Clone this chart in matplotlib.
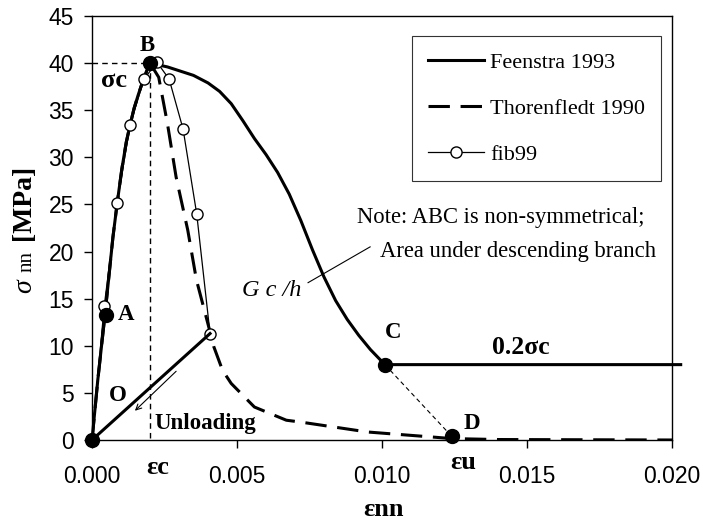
import matplotlib.pyplot as plt
from matplotlib.ticker import FormatStrFormatter

# strain / stress readings (strain in -, stress in MPa)
feen_eps = [0.0, 0.0002, 0.00045, 0.00072, 0.00087, 0.00103, 0.00118, 0.00131, 0.00145,
            0.00159, 0.00172, 0.00183, 0.0019, 0.0020, 0.0023, 0.0026, 0.0030, 0.0035,
            0.0040, 0.0044, 0.0048, 0.0052, 0.0056, 0.0060, 0.0064, 0.0068, 0.0072,
            0.0076, 0.0080, 0.0084, 0.0088, 0.0092, 0.0096, 0.0101, 0.0203]
feen_sig = [0.0, 6.4, 13.4, 21.5, 25.2, 28.8, 31.6, 33.4, 35.2,
            36.6, 37.8, 38.7, 39.3, 40.0, 39.8, 39.6, 39.2, 38.7,
            37.9, 37.0, 35.7, 33.9, 32.0, 30.3, 28.4, 26.1, 23.3,
            20.2, 17.3, 14.8, 12.8, 11.1, 9.6, 8.0, 8.0]

thor_eps = [0.0, 0.0002, 0.00045, 0.00072, 0.00087, 0.00103, 0.00118, 0.00131, 0.00145,
            0.00159, 0.00172, 0.00183, 0.0019, 0.0020, 0.0023, 0.0026, 0.0029, 0.0033,
            0.0036, 0.0040, 0.0042, 0.0045, 0.0048, 0.0056, 0.0067, 0.0072, 0.0095,
            0.0118, 0.0124, 0.0140, 0.0200]
thor_sig = [0.0, 6.4, 13.4, 21.5, 25.2, 28.8, 31.6, 33.4, 35.2,
            36.6, 37.8, 38.7, 39.3, 40.0, 38.5, 33.6, 27.9, 22.3,
            17.0, 12.3, 9.9, 7.4, 6.0, 3.5, 2.1, 1.9, 0.85,
            0.3, 0.15, 0.05, 0.0]

fib_eps = [0.0, 0.00042, 0.00087, 0.00131, 0.00179, 0.00224, 0.00266, 0.00314, 0.00361, 0.00407]
fib_sig = [0.0, 14.2, 25.2, 33.4, 38.3, 40.1, 38.3, 33.0, 24.0, 11.3]

# unloading path back to the origin
unload_eps = [0.00407, 0.0]
unload_sig = [11.3, 0.0]

# key points O, A, B, C, D
pt_names = ['O', 'A', 'B', 'C', 'D']
pt_eps = [0.0, 0.00048, 0.0020, 0.0101, 0.0124]
pt_sig = [0.0, 13.3, 40.0, 8.0, 0.4]

eps_c = 0.0020
sig_c = 40.0

serif = 'Liberation Serif'
plt.rcParams['font.family'] = 'Liberation Sans'

fig = plt.figure(figsize=(7.03, 5.26), dpi=100)
ax = fig.add_axes([0.1309, 0.1635, 0.825, 0.806])

ax.plot([0, eps_c], [sig_c, sig_c], color='black', lw=1, ls=(0, (4, 3)))
ax.plot([eps_c, eps_c], [sig_c, 0], color='black', lw=1, ls=(0, (4, 3)))
ax.plot([pt_eps[3], pt_eps[4]], [pt_sig[3], pt_sig[4]], color='black', lw=0.8, ls=(0, (4, 3)))

ax.plot(feen_eps, feen_sig, color='black', lw=2.2, label='Feenstra 1993', clip_on=False)
ax.plot(thor_eps, thor_sig, color='black', lw=2.2, dashes=(7, 3.5), label='Thorenfledt 1990')
ax.plot(fib_eps, fib_sig, color='black', lw=0.9, marker='o', markersize=8,
        markerfacecolor='white', markeredgecolor='black', markeredgewidth=1, label='fib99')
ax.plot(unload_eps, unload_sig, color='black', lw=2.2)
ax.plot(pt_eps, pt_sig, 'o', color='black', markersize=10, ls='none', clip_on=False, zorder=5)

# point labels
bold = dict(family=serif, fontweight='bold', ha='center', va='center')
ax.text(0.0019, 41.9, 'B', fontsize=16.5, **bold)
ax.text(0.00117, 13.3, 'A', fontsize=16.5, **bold)
ax.text(0.0009, 4.7, 'O', fontsize=16.5, **bold)
ax.text(0.01038, 11.4, 'C', fontsize=16.5, **bold)
ax.text(0.0131, 1.7, 'D', fontsize=16.5, **bold)
ax.text(0.00076, 38.2, 'σc', fontsize=19, **bold)
ax.text(0.01479, 9.8, '0.2σc', fontsize=18.5, **bold)
ax.text(0.0039, 1.7, 'Unloading', fontsize=16.5, **bold)
ax.text(0.00228, -2.9, 'εc', fontsize=19, clip_on=False, **bold)
ax.text(0.0128, -2.4, 'εu', fontsize=19, clip_on=False, **bold)

ax.annotate('', xy=(0.00141, 2.9), xytext=(0.00297, 7.5),
            arrowprops=dict(arrowstyle='->', color='black', lw=0.8))

ax.text(0.0062, 15.9, 'G c /h', fontsize=17.5, family=serif, style='italic', ha='center', va='center')
ax.plot([0.00745, 0.00959], [16.7, 20.5], color='black', lw=0.8)
ax.text(0.00914, 23.6, 'Note: ABC is non-symmetrical;', fontsize=16.3, family=serif, ha='left', va='center')
ax.text(0.00993, 20.0, 'Area under descending branch', fontsize=16.3, family=serif, ha='left', va='center')

ax.set_xlim(0, 0.020)
ax.set_ylim(0, 45)
ax.set_xticks([0, 0.005, 0.010, 0.015, 0.020])
ax.set_yticks(range(0, 46, 5))
ax.xaxis.set_major_formatter(FormatStrFormatter('%.3f'))
ax.tick_params(axis='both', direction='out', length=6, width=1, labelsize=16.5)
ax.tick_params(axis='x', pad=12)
ax.tick_params(axis='y', pad=7)
for s in ax.spines.values():
    s.set_linewidth(1)

# axis titles
fig.text(383 / 703, 1 - 509 / 526, 'εnn', fontsize=19, family=serif, fontweight='bold',
         ha='center', va='center')
fig.text(25 / 703, 1 - 286 / 526, 'σ', fontsize=20, family=serif, style='italic',
         rotation=90, ha='center', va='center')
fig.text(27 / 703, 1 - 261 / 526, 'nn', fontsize=15, family=serif,
         rotation=90, ha='center', va='center')
fig.text(24 / 703, 1 - 202 / 526, '[MPa]', fontsize=20, family=serif, fontweight='bold',
         rotation=90, ha='center', va='center')

leg = ax.legend(loc='upper left', bbox_to_anchor=(0.552, 0.953), prop={'family': serif, 'size': 16},
                handlelength=2.5, handletextpad=0.3, labelspacing=1.15, borderpad=0.72,
                fancybox=False, framealpha=1, borderaxespad=0)
leg.get_frame().set_edgecolor('#333333')
leg.get_frame().set_linewidth(0.8)

fig.savefig('out.png', dpi=100)
